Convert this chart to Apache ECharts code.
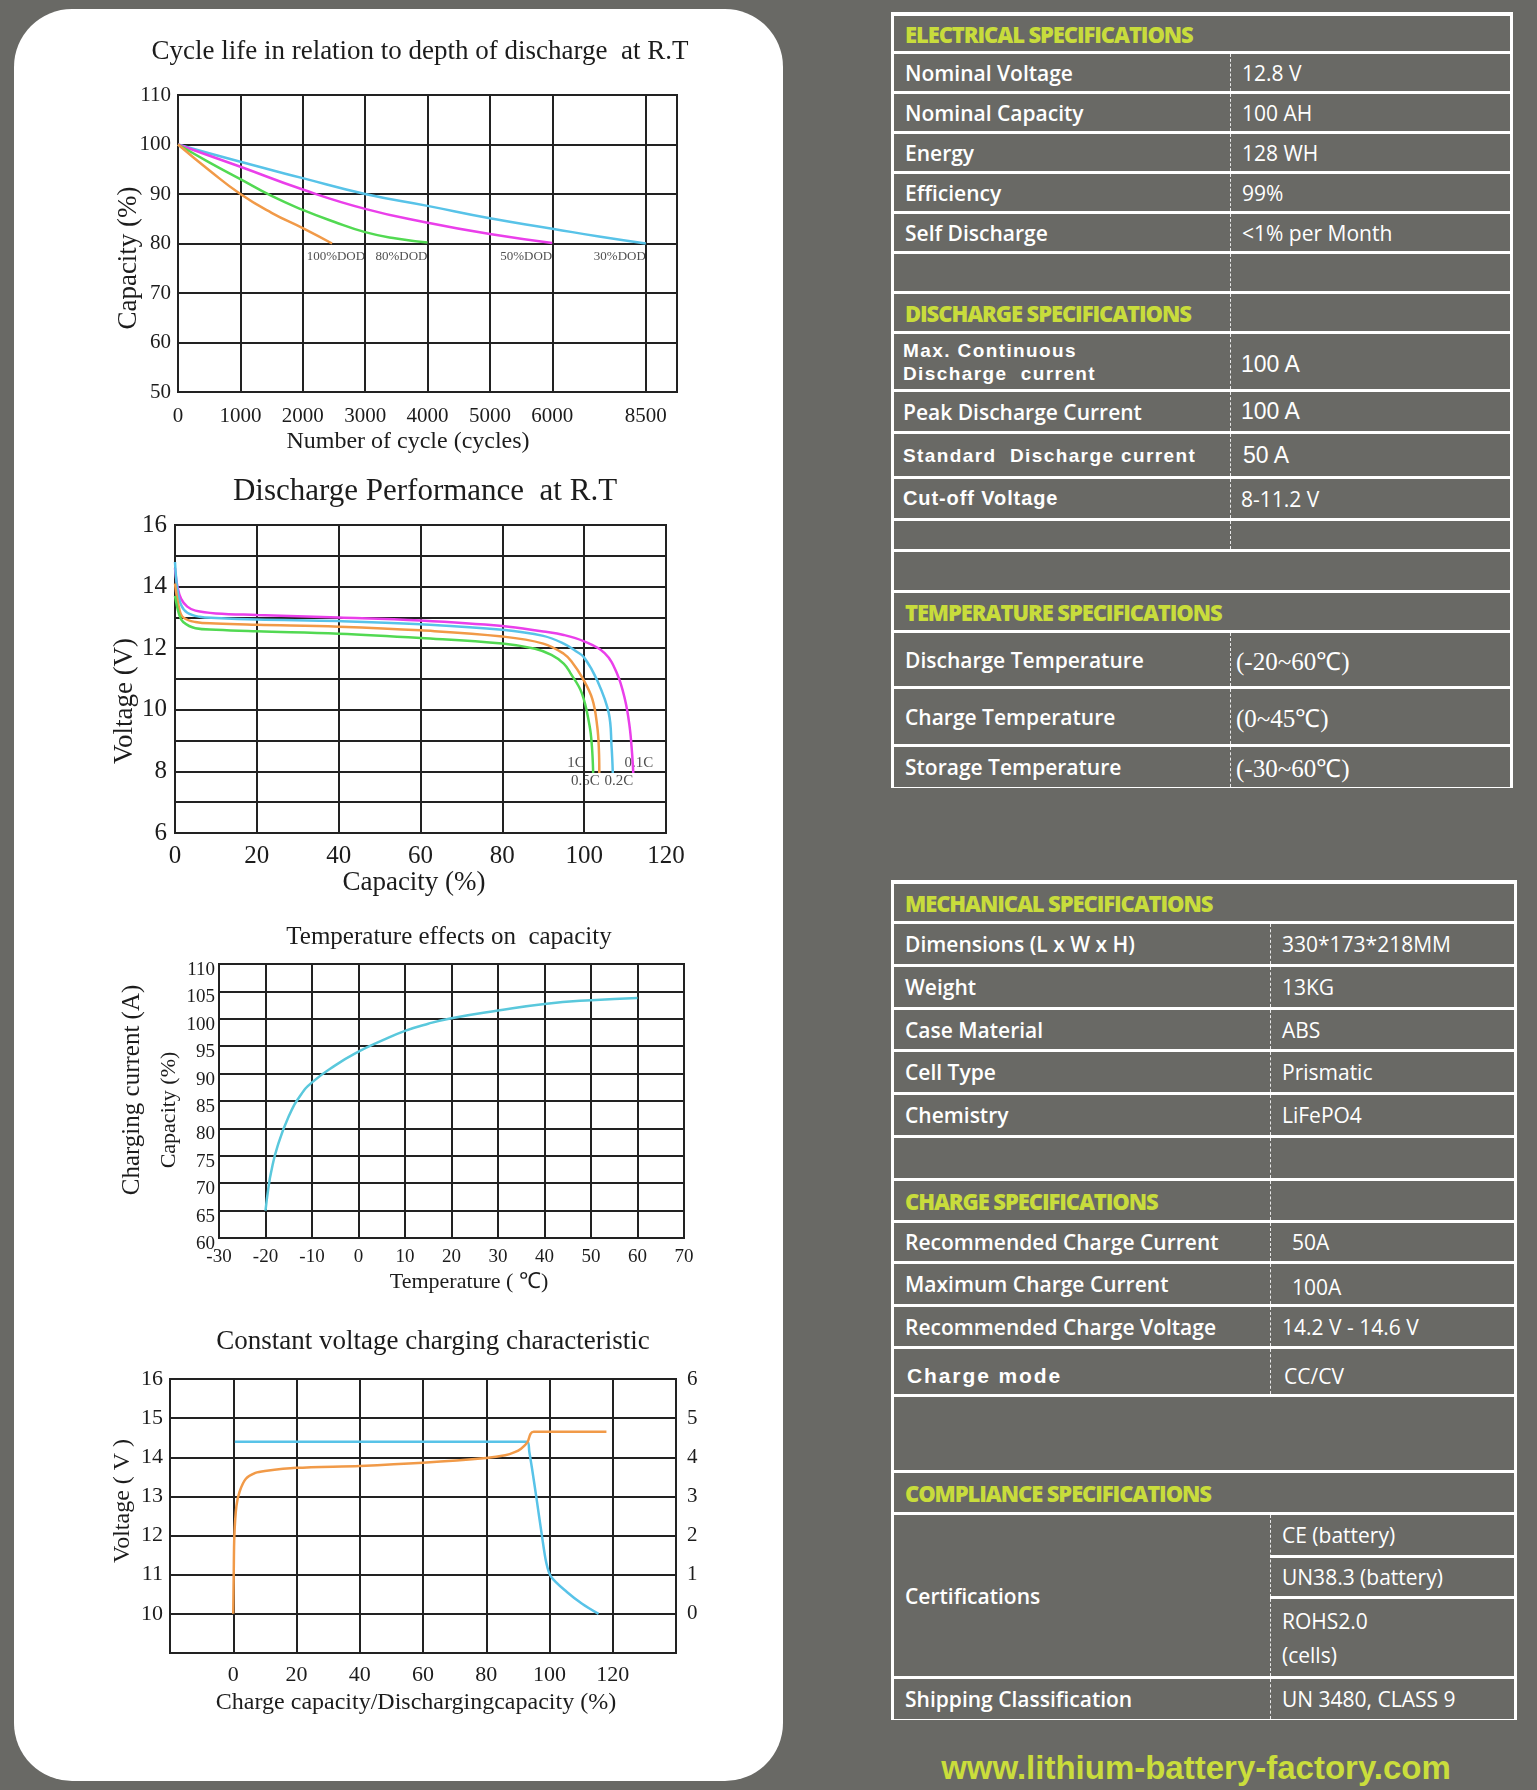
<!DOCTYPE html>
<html><head><meta charset="utf-8">
<script src="https://cdn.jsdelivr.net/npm/echarts@6/dist/echarts.min.js"></script>
<style>
html,body{margin:0;padding:0}
body{background:#696965;width:1537px;height:1790px;overflow:hidden;position:relative;font-family:'Open Sans',sans-serif}
#panel{position:absolute;left:14px;top:9px;width:769px;height:1772px;background:#fff;border-radius:58px}
#chart{position:absolute;left:0;top:0;width:800px;height:1790px}
.cellTxt{position:absolute;display:flex;align-items:center;color:#fff;white-space:pre;}
#footer{position:absolute;left:883px;width:626px;top:1745px;height:46px;text-align:center;color:#cadd3c;font:bold 33px 'Liberation Sans',Arial,sans-serif;line-height:46px}
</style></head>
<body>
<div id="panel"></div>
<div id="chart"></div>
<div id="footer">www.lithium-battery-factory.com</div>
<script>
// ---------------- DATA ----------------
// Chart 1: cycle life vs depth of discharge
const cycleTicks = [0, 1000, 2000, 3000, 4000, 5000, 6000, 8500];
const dod100 = [[0,100],[500,94.8],[1000,90],[1500,86.2],[2000,83.1],[2470,80]];
const dod80  = [[0,100],[500,96.4],[1000,93],[1500,89.6],[2000,86.8],[2500,84.4],[3000,82.3],[3500,81],[4000,80.2]];
const dod50  = [[0,100],[1000,95.5],[2000,90.9],[3000,87],[4000,84.2],[5000,81.9],[6000,80.1]];
const dod30  = [[0,100],[1000,96.5],[2000,93.2],[3000,90],[4000,87.6],[5000,85.1],[6000,83],[7250,81.4],[8500,80]];
const dodNames = ['100%DOD','80%DOD','50%DOD','30%DOD'];
const dodLabelAt = [3000, 4000, 6000, 8500];

// Chart 2: discharge performance
const rate1C   = [[0,13.7],[1,13.1],[2,12.85],[5,12.65],[10,12.6],[20,12.55],[40,12.47],[60,12.33],[80,12.15],[88,11.98],[92,11.78],[95,11.5],[96.6,11.2],[99.4,10.55],[101.3,9.5],[101.9,8.8],[102.2,7.95]];
const rate05C  = [[0,14.1],[1,13.3],[2,13.0],[5,12.85],[10,12.8],[20,12.76],[40,12.7],[60,12.58],[80,12.38],[90,12.15],[95,11.82],[97,11.55],[99.5,11.05],[102,10.35],[103.2,9.45],[103.6,8.7],[103.7,7.95]];
const rate02C  = [[0,14.8],[0.6,13.9],[1.5,13.4],[3,13.15],[6,13.02],[10,12.98],[20,12.93],[40,12.88],[60,12.78],[80,12.6],[90,12.4],[95,12.15],[98,11.9],[100,11.7],[103.2,10.95],[106,9.9],[106.7,8.8],[107,7.95]];
const rate01C  = [[0,14.6],[0.6,14.0],[1.5,13.6],[3,13.35],[5,13.22],[10,13.13],[20,13.08],[40,13.0],[60,12.9],[80,12.72],[90,12.54],[95,12.43],[100,12.22],[105,11.84],[108,11.19],[110,10.32],[111.1,9.46],[111.7,8.6],[112,7.95]];
const rateNames = ['1C','0.5C','0.2C','0.1C'];
const rateLabelAt = [[98.0,8.28],[100.3,7.68],[108.5,7.68],[113.4,8.28]];

// Chart 3: temperature effects on capacity
const tempCap = [[-20,65],[-19.4,69],[-18.8,72],[-17.5,76.5],[-15,82.2],[-12.5,86],[-10,88.4],[-5,91.5],[0,94],[5,96],[10,97.8],[15,99.1],[20,100.1],[30,101.5],[40,102.7],[50,103.4],[60,103.8]];

// Chart 4: constant voltage charging
const cvVoltage = [[0,10],[0.15,11],[0.35,12],[1,12.75],[2,13.12],[4,13.45],[7,13.6],[10,13.65],[20,13.73],[40,13.78],[60,13.86],[80,13.98],[86,14.05],[89,14.13],[91,14.22],[93,14.38],[94,14.6],[95,14.65],[118,14.65]];
const cvCurrent = [[0.5,4.4],[93,4.4],[93.6,4.15],[94.5,3.7],[95.8,3.0],[97.6,2.0],[99,1.3],[100.5,0.95],[105.5,0.56],[110.3,0.26],[115.5,0]];

// Tables
const electricalRows = [['Nominal Voltage','12.8 V'],['Nominal Capacity','100 AH'],['Energy','128 WH'],['Efficiency','99%'],['Self Discharge','<1% per Month']];
const dischargeRows = [['Max. Continuous\nDischarge  current','100 A'],['Peak Discharge Current','100 A'],['Standard  Discharge current','50 A'],['Cut-off Voltage','8-11.2 V']];
const temperatureRows = [['Discharge Temperature','(-20~60\u2103)'],['Charge Temperature','(0~45\u2103)'],['Storage Temperature','(-30~60\u2103)']];
const mechanicalRows = [['Dimensions (L x W x H)','330*173*218MM'],['Weight','13KG'],['Case Material','ABS'],['Cell Type','Prismatic'],['Chemistry','LiFePO4']];
const chargeRows = [['Recommended Charge Current','50A'],['Maximum Charge Current','100A'],['Recommended Charge Voltage','14.2 V - 14.6 V'],['Charge mode','CC/CV']];
const certLabel = 'Certifications';
const certValues = ['CE (battery)','UN38.3 (battery)','ROHS2.0\n(cells)'];
const shippingRow = ['Shipping Classification','UN 3480, CLASS 9'];
const headers = ['ELECTRICAL SPECIFICATIONS','DISCHARGE SPECIFICATIONS','TEMPERATURE SPECIFICATIONS','MECHANICAL SPECIFICATIONS','CHARGE SPECIFICATIONS','COMPLIANCE SPECIFICATIONS'];

// ---------------- CHARTS ----------------
const serif = "'Liberation Serif','Times New Roman',serif";
const ink = '#1c1c1c';
const gridLine = {color:'#222', width:2};
function cyclePos(c){ return c <= 6000 ? c/1000 : 6 + (c-6000)/2500*1.5; }
const cyclePosTicks = cycleTicks.map(cyclePos);
function ax(extra){
  return Object.assign({
    type:'value',
    axisLine:{show:true, lineStyle:gridLine},
    axisTick:{show:false},
    splitLine:{show:true, lineStyle:gridLine},
    axisLabel:{color:ink, fontFamily:serif, fontSize:20}
  }, extra);
}
function lbl(o){ return Object.assign({color:ink, fontFamily:serif, fontSize:20}, o); }

const C = {orange:'#f19a48', green:'#52d952', magenta:'#ea3fea', cyan:'#58c3e8', teal:'#5ac8dc'};
function line(xi, yi, data, color, smooth, width){
  return {type:'line', xAxisIndex:xi, yAxisIndex:yi, data, showSymbol:false, symbol:'none', smooth:smooth,
    lineStyle:{color, width:width||2.5}, itemStyle:{color}, silent:true, z:5};
}

const option = {
  animation:false,
  backgroundColor:'transparent',
  grid:[
    {left:178, top:95, width:499, height:297, show:true, borderColor:'#222', borderWidth:2},
    {left:175, top:525, width:491, height:308, show:true, borderColor:'#222', borderWidth:2},
    {left:219, top:964, width:465, height:274, show:true, borderColor:'#222', borderWidth:2},
    {left:170, top:1379, width:506, height:274, show:true, borderColor:'#222', borderWidth:2}
  ],
  xAxis:[
    ax({gridIndex:0, min:0, max:8,
        axisTick:{show:false, customValues:cyclePosTicks},
        axisLabel:lbl({fontSize:21, margin:14, customValues:cyclePosTicks,
          formatter:v=>{const i=cyclePosTicks.findIndex(p=>Math.abs(p-v)<1e-6); return i>=0?String(cycleTicks[i]):'';}})}),
    ax({gridIndex:1, min:0, max:120, interval:20, axisLabel:lbl({fontSize:25, margin:11})}),
    ax({gridIndex:2, min:-30, max:70, interval:10, axisLabel:lbl({fontSize:19, margin:10})}),
    ax({gridIndex:3, min:-20, max:140, interval:20, axisLabel:lbl({fontSize:22, margin:11, formatter:v=>(v<0||v>120)?'':String(v)})})
  ],
  yAxis:[
    ax({gridIndex:0, min:50, max:110, interval:10, axisLabel:lbl({fontSize:21, margin:7})}),
    ax({gridIndex:1, min:6, max:16, interval:1, axisLabel:lbl({fontSize:25, margin:8, formatter:v=>v%2===0?String(v):''})}),
    ax({gridIndex:2, min:60, max:110, interval:5, axisLabel:lbl({fontSize:19, margin:4, verticalAlign:'top', lineHeight:12})}),
    ax({gridIndex:3, min:9, max:16, interval:1, axisLabel:lbl({fontSize:22, margin:7, formatter:v=>v<10?'':String(v)})}),
    ax({gridIndex:3, min:-1, max:6, interval:1, position:'right', splitLine:{show:false},
        axisLabel:lbl({fontSize:21, margin:11, formatter:v=>v<0?'':String(v)})})
  ],
  series:[
    line(0,0,dod30.map(d=>[cyclePos(d[0]),d[1]]),C.cyan,0.5),
    line(0,0,dod50.map(d=>[cyclePos(d[0]),d[1]]),C.magenta,0.5),
    line(0,0,dod80.map(d=>[cyclePos(d[0]),d[1]]),C.green,0.5),
    line(0,0,dod100.map(d=>[cyclePos(d[0]),d[1]]),C.orange,0.5),
    {type:'scatter', xAxisIndex:0, yAxisIndex:0, symbolSize:0, silent:true,
     data:dodLabelAt.map((c,i)=>({name:dodNames[i], value:[cyclePos(c),80]})),
     label:{show:true, formatter:p=>p.name, position:'left', distance:0, offset:[0,13], color:'#222', fontFamily:serif, fontSize:13}},
    line(1,1,rate01C,C.magenta,0.4),
    line(1,1,rate02C,C.cyan,0.4),
    line(1,1,rate05C,C.orange,0.4),
    line(1,1,rate1C,C.green,0.4),
    {type:'scatter', xAxisIndex:1, yAxisIndex:1, symbolSize:0, silent:true,
     data:rateLabelAt.map((p,i)=>({name:rateNames[i], value:p})),
     label:{show:true, formatter:p=>p.name, position:'inside', color:'#222', fontFamily:serif, fontSize:15}},
    line(2,2,tempCap,C.teal,0.5),
    line(3,4,cvCurrent,C.cyan,0.3),
    line(3,3,cvVoltage,C.orange,0.3)
  ],
  graphic:[]
};
function txt(s, x, y, size, rot){
  return {type:'text', x, y, rotation:rot?Math.PI/2:0, silent:true, z:10,
    style:{text:s, fill:ink, font:`${size}px ${serif}`, align:'center', verticalAlign:'middle', textAlign:'center', textVerticalAlign:'middle'}};
}
option.graphic = [
  txt('Cycle life in relation to depth of discharge  at R.T', 420, 52, 27),
  txt('Number of cycle (cycles)', 408, 442, 24),
  txt('Capacity (%)', 129, 258, 27, true),
  txt('Discharge Performance  at R.T', 425, 492, 31),
  txt('Capacity (%)', 414, 883, 27),
  txt('Voltage (V)', 125, 701, 27, true),
  txt('Temperature effects on  capacity', 449, 937, 25),
  txt('Temperature ( \u2103)', 469, 1282, 22),
  txt('Charging current (A)', 132, 1090, 25, true),
  txt('Capacity (%)', 169, 1110, 22, true),
  txt('Constant voltage charging characteristic', 433, 1342, 27),
  txt('Charge capacity/Dischargingcapacity (%)', 416, 1703, 24),
  txt('Voltage ( V )', 123, 1501, 24, true)
];
const chart = echarts.init(document.getElementById('chart'), null, {renderer:'canvas'});
chart.setOption(option);

// ---------------- TABLES ----------------
const BG = '#696965';
const F = {
  label:"font:600 21px 'Open Sans',sans-serif;",
  value:"font:400 21px 'Open Sans',sans-serif;",
  head:"font:800 22px 'Open Sans',sans-serif;letter-spacing:-1.1px;color:#c8dc3c;",
  arialB:"font:bold 19px 'Liberation Sans',Arial,sans-serif;letter-spacing:1.4px;line-height:23px;",
  arialB19:"font:bold 20px 'Liberation Sans',Arial,sans-serif;letter-spacing:0.9px;",
  arialBig:"font:bold 21px 'Liberation Sans',Arial,sans-serif;letter-spacing:1.9px;padding-top:8px;",
  arialVal:"font:400 23px 'Liberation Sans',Arial,sans-serif;",
  serifVal:"font:400 25px 'Liberation Serif',serif;"
};
function buildTable(spec){
  const root = document.createElement('div');
  const H = spec.bounds[spec.bounds.length-1]-spec.bounds[0];
  root.style.cssText = `position:absolute;left:${spec.x}px;top:${spec.bounds[0]}px;width:${spec.w}px;height:${H}px;background:#fff`;
  document.body.appendChild(root);
  const T = spec.bounds[0], dx = spec.div - spec.x;
  function box(l,t,w,h){const d=document.createElement('div');d.style.cssText=`position:absolute;left:${l}px;top:${t}px;width:${w}px;height:${h}px;background:${BG}`;root.appendChild(d);return d;}
  function text(parent,s,l,w,style,pad){const d=document.createElement('div');d.className='cellTxt';d.style.cssText+=`left:${l}px;top:0;width:${w}px;height:100%;padding-left:${pad||0}px;box-sizing:border-box;${style}`;d.textContent=s;parent.appendChild(d);return d;}
  function dash(t,h){const d=document.createElement('div');d.style.cssText=`position:absolute;left:${dx}px;top:${t}px;width:0;height:${h}px;border-left:1px dashed rgba(255,255,255,0.85)`;root.appendChild(d);}
  spec.rows.forEach((r,i)=>{
    const y0 = spec.bounds[i]-T, y1 = spec.bounds[i+1]-T;
    const top = y0 + (i===0?4:2), h = y1 - top - 1;
    if(r.kind==='cert'){
      const lc = box(3, top, dx-3, h);
      text(lc, r.label, 0, dx-3, F.label, 11);
      const sb = [y0].concat(r.sub.map(v=>v-T)).concat([y1]);
      r.values.forEach((v,k)=>{
        const st = sb[k] + 2, sh = sb[k+1]-st-1;
        const c = box(dx, st, spec.w-dx-3, sh);
        text(c, v, 0, spec.w-dx-3, F.value+(k===2?'line-height:34px;':''), 12);
      });
      dash(top,h);
      return;
    }
    const b = box(3, top, spec.w-6, h);
    if(r.label) text(b, r.label, 0, dx-3, r.ls, r.lp==null?11:r.lp);
    if(r.value) text(b, r.value, dx-3, spec.w-dx-3, r.vs, r.vp==null?12:r.vp);
    if(r.divider) dash(top,h);
  });
}
const L = F.label, V = F.value;
buildTable({x:891, w:622, div:1230,
  bounds:[12,52,92,132,172,212,252,292,332,390,432,477,519,550,591,631,687,745,788],
  rows:[
    {label:headers[0], ls:F.head},
    ...electricalRows.map(r=>({label:r[0], value:r[1], ls:L, vs:V, divider:true})),
    {divider:true},
    {label:headers[1], ls:F.head, divider:true},
    {label:dischargeRows[0][0], value:dischargeRows[0][1], ls:F.arialB, vs:F.arialVal+'padding-top:6px;', divider:true, lp:9, vp:11},
    {label:dischargeRows[1][0], value:dischargeRows[1][1], ls:L, vs:F.arialVal, divider:true, lp:9, vp:11},
    {label:dischargeRows[2][0], value:dischargeRows[2][1], ls:F.arialB, vs:F.arialVal, divider:true, lp:9, vp:13},
    {label:dischargeRows[3][0], value:dischargeRows[3][1], ls:F.arialB19, vs:V, divider:true, lp:9, vp:11},
    {divider:true},
    {},
    {label:headers[2], ls:F.head},
    ...temperatureRows.map(r=>({label:r[0], value:r[1], ls:L, vs:F.serifVal, divider:true, vp:6}))
  ]});
buildTable({x:891, w:626, div:1270,
  bounds:[880,922,965,1008,1050,1093,1136,1179,1221,1262,1305,1347,1395,1471,1513,1677,1720],
  rows:[
    {label:headers[3], ls:F.head},
    ...mechanicalRows.map(r=>({label:r[0], value:r[1], ls:L, vs:V, divider:true})),
    {divider:true},
    {label:headers[4], ls:F.head, divider:true},
    {label:chargeRows[0][0], value:chargeRows[0][1], ls:L, vs:V, divider:true, vp:22},
    {label:chargeRows[1][0], value:chargeRows[1][1], ls:L, vs:V+'padding-top:6px;', divider:true, vp:22},
    {label:chargeRows[2][0], value:chargeRows[2][1], ls:L, vs:V, divider:true},
    {label:chargeRows[3][0], value:chargeRows[3][1], ls:F.arialBig, vs:V+'padding-top:8px;', divider:true, lp:13, vp:14},
    {},
    {label:headers[5], ls:F.head},
    {kind:'cert', label:certLabel, values:certValues, sub:[1556,1597]},
    {label:shippingRow[0], value:shippingRow[1], ls:L, vs:V, divider:true}
  ]});
</script>
</body></html>
